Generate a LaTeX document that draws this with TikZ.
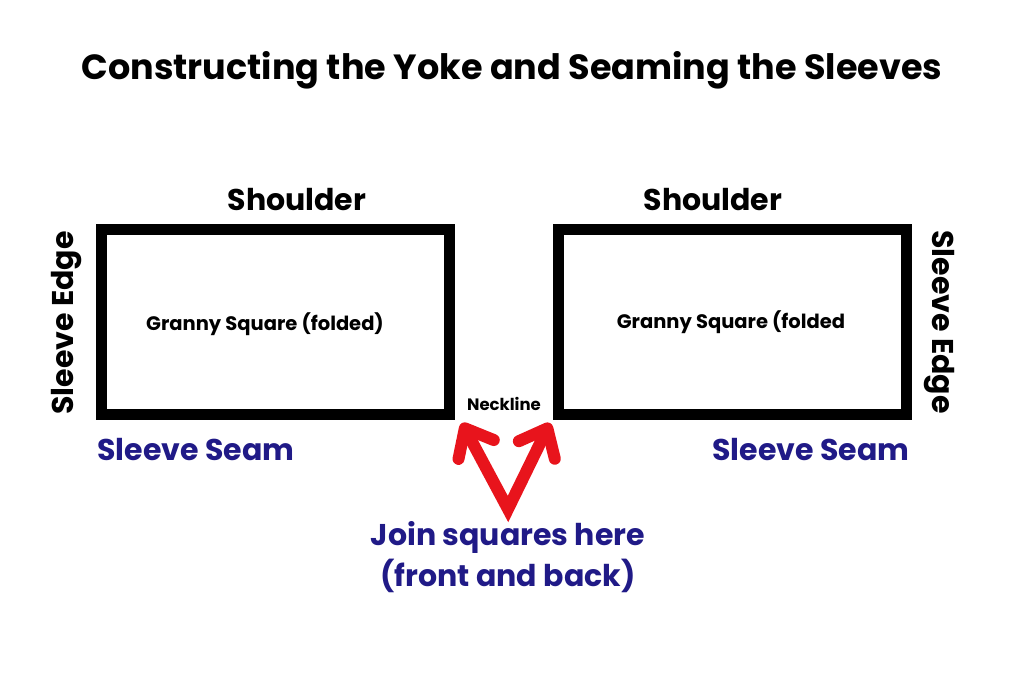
\documentclass[tikz,border=0pt]{standalone}
\usepackage{fontspec}
\setmainfont{Poppins}
\usetikzlibrary{arrows.meta}
\definecolor{navy}{RGB}{32,26,135}
\definecolor{arrowred}{RGB}{232,20,28}

\begin{document}
\begin{tikzpicture}[x=1pt,y=-1pt,
    square/.style={draw, line width=11pt, minimum width=348pt, minimum height=185pt, inner sep=0pt},
    bigtext/.style={font=\fontsize{30}{41}\selectfont\bfseries},
    seam/.style={bigtext, text=navy},
    barb/.tip={Straight Barb[length=24pt, width=40pt, line cap=round, line join=round]},
    pointer/.style={arrowred, line width=12pt, line join=miter, {barb}-{barb}}]
    \useasboundingbox[fill=white] (0,0) rectangle (1024,683);

    \node[font=\fontsize{35}{40}\selectfont\bfseries] (title) at (512,70) {Constructing the Yoke and Seaming the Sleeves};

    \node[square] (leftsq) at (275.5,322) {};
    \node[square] (rightsq) at (732,322) {};

    \node[bigtext] (leftshoulder) at (297,200) {Shoulder};
    \node[bigtext] (rightshoulder) at (713,200) {Shoulder};
    \node[bigtext, rotate=90] (leftedge) at (67,323) {Sleeve Edge};
    \node[bigtext, rotate=-90] (rightedge) at (939,322) {Sleeve Edge};
    \node[font=\fontsize{19.5}{22}\selectfont\bfseries] (leftgranny) at (265,324) {Granny Square (folded)};
    \node[font=\fontsize{19.5}{22}\selectfont\bfseries] (rightgranny) at (731,322) {Granny Square (folded};
    \node[seam] (leftseam) at (196,450) {Sleeve Seam};
    \node[seam] (rightseam) at (811,450) {Sleeve Seam};
    \node[font=\fontsize{16.5}{19}\selectfont\bfseries] (neck) at (504,404) {Neckline};

    \node[seam, align=center] (join) at (508,557) {Join squares here\\(front and back)};

    \coordinate (tipl) at (462,423);
    \coordinate (tipr) at (550,423);
    \coordinate (apex) at (508,509);
    \draw[pointer] (tipl) -- (apex) -- (tipr);
\end{tikzpicture}
\end{document}
